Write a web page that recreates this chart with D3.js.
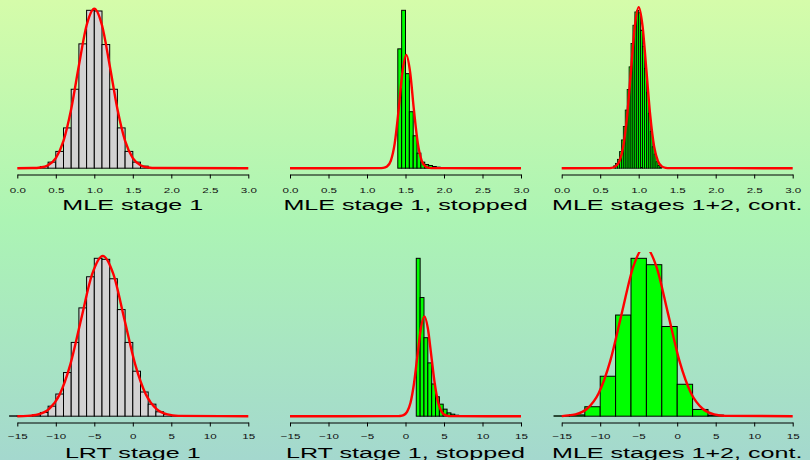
<!DOCTYPE html>
<html>
<head>
<meta charset="utf-8">
<script src="https://cdn.jsdelivr.net/npm/d3@7"></script>
<style>
  body { margin: 0; }
  svg { display: block; font-family: "Liberation Sans", Arial, sans-serif; }
</style>
</head>
<body>
<div id="chart"></div>
<script>
const width = 810;
const height = 460;

// tick labels for the two rows
const mleTicks = [0, 0.5, 1, 1.5, 2, 2.5, 3];
const lrtTicks = [-15, -10, -5, 0, 5, 10, 15];

// MLE stage 1 : bins of 0.1 from 0.2
const mle1Start = 0.2, mle1Width = 0.1;
const mle1Dens = [0.004, 0.02, 0.071, 0.197, 0.473, 0.927, 1.46, 1.854, 1.846, 1.452, 0.927, 0.473, 0.197, 0.071, 0.024, 0.008];
const mle1CurveX = [0, 0.2, 0.3, 0.4, 0.5, 0.6, 0.7, 0.8, 0.9, 1.0, 1.1, 1.2, 1.3, 1.4, 1.5, 1.6, 1.7, 1.8, 3];
const mle1CurveY = [0, 0.0016, 0.0085, 0.0355, 0.119, 0.321, 0.695, 1.206, 1.678, 1.873, 1.678, 1.206, 0.695, 0.321, 0.119, 0.0355, 0.0085, 0.0016, 0];

// MLE stage 1, stopped : bins of 0.05 from 1.4
const mleStopStart = 1.4, mleStopWidth = 0.05;
const mleStopDens = [4.86, 6.43, 3.85, 2.30, 1.32, 0.613, 0.245, 0.15, 0.109, 0.068, 0.041, 0.014];
const mleStopCurveX = [0, 1.16, 1.21, 1.26, 1.31, 1.36, 1.41, 1.46, 1.51, 1.56, 1.61, 1.66, 1.71, 1.76, 1.81, 1.86, 3];
const mleStopCurveY = [0, 0.0012, 0.0106, 0.068, 0.309, 1.01, 2.35, 3.91, 4.61, 3.91, 2.35, 1.01, 0.309, 0.068, 0.0106, 0.0012, 0];

// MLE stages 1+2, cont. : bins of 0.025 from 0.675
const mleContStart = 0.675, mleContWidth = 0.025;
const mleContDens = [0.058, 0.12, 0.22, 0.41, 0.70, 1.03, 1.44, 1.95, 2.51, 3.09, 3.54, 3.87, 3.91, 3.85, 3.42, 3.02, 2.47, 1.87, 1.36, 0.91, 0.53, 0.35, 0.16, 0.066, 0.025];
const mleContCurveX = [0, 0.6, 0.65, 0.7, 0.75, 0.8, 0.85, 0.9, 0.95, 1.0, 1.05, 1.1, 1.15, 1.2, 1.25, 1.3, 1.35, 1.4, 3];
const mleContCurveY = [0, 0.0013, 0.0088, 0.044, 0.175, 0.54, 1.30, 2.42, 3.52, 3.99, 3.52, 2.42, 1.30, 0.54, 0.175, 0.044, 0.0088, 0.0013, 0];

// LRT stage 1 : bins of 1 from -16
const lrt1Start = -16, lrt1Width = 1;
const lrt1Dens = [0.0003, 0.0003, 0.0006, 0.0012, 0.0033, 0.0089, 0.0197, 0.0388, 0.0656, 0.0963, 0.124, 0.1404, 0.1395, 0.1222, 0.0948, 0.0656, 0.04, 0.0215, 0.0107, 0.0039, 0.0015, 0.0006, 0.0003];
const lrt1CurveX = [-15, -13.7, -12.3, -10.9, -9.5, -8.1, -6.7, -5.3, -3.9, -2.5, -1.1, 0.3, 1.7, 3.1, 4.5, 5.9, 15];
const lrt1CurveY = [0, 0.0003, 0.0016, 0.0063, 0.0193, 0.0463, 0.0864, 0.1258, 0.1425, 0.1258, 0.0864, 0.0463, 0.0193, 0.0063, 0.0016, 0.0003, 0];

// LRT stage 1, stopped : bins of 0.5 from 1.4
const lrtStopStart = 1.4, lrtStopWidth = 0.5;
const lrtStopDens = [0.696, 0.523, 0.346, 0.235, 0.142, 0.0856, 0.053, 0.031, 0.0146, 0.0089, 0.0044, 0.003, 0.0015];
const lrtStopCurveX = [-15, -1.15, -0.7, -0.25, 0.2, 0.65, 1.1, 1.55, 2.0, 2.45, 2.9, 3.35, 3.8, 4.25, 4.7, 5.15, 5.6, 6.05, 15];
const lrtStopCurveY = [0, 0.0001, 0.001, 0.0049, 0.0193, 0.0595, 0.143, 0.267, 0.388, 0.44, 0.388, 0.267, 0.143, 0.0595, 0.0193, 0.0049, 0.001, 0.0001, 0];

// MLE stages 1+2, cont. (bottom) : bins of 2 from -16
const lrtContStart = -16, lrtContWidth = 2;
const lrtContDens = [0.0003, 0.0011, 0.008, 0.0338, 0.0856, 0.1336, 0.1282, 0.0759, 0.027, 0.0057, 0.0009];
const lrtContCurveX = [-15, -14.7, -13.2, -11.7, -10.2, -8.7, -7.2, -5.7, -4.2, -2.7, -1.2, 0.3, 1.8, 3.3, 4.8, 6.3, 15];
const lrtContCurveY = [0, 0.0003, 0.0016, 0.0063, 0.0194, 0.0466, 0.087, 0.1266, 0.1435, 0.1266, 0.087, 0.0466, 0.0194, 0.0063, 0.0016, 0.0003, 0];

const panels = [
    { title: "MLE stage 1", domain: [0, 3], ticks: mleTicks, fmt: d3.format(".1f"), start: mle1Start, binW: mle1Width, dens: mle1Dens, cx: mle1CurveX, cy: mle1CurveY, fill: "#d3d3d3" },
    { title: "MLE stage 1, stopped", domain: [0, 3], ticks: mleTicks, fmt: d3.format(".1f"), start: mleStopStart, binW: mleStopWidth, dens: mleStopDens, cx: mleStopCurveX, cy: mleStopCurveY, fill: "#00ff00" },
    { title: "MLE stages 1+2, cont.", domain: [0, 3], ticks: mleTicks, fmt: d3.format(".1f"), start: mleContStart, binW: mleContWidth, dens: mleContDens, cx: mleContCurveX, cy: mleContCurveY, fill: "#00ff00" },
    { title: "LRT stage 1", domain: [-15, 15], ticks: lrtTicks, fmt: d3.format("d"), start: lrt1Start, binW: lrt1Width, dens: lrt1Dens, cx: lrt1CurveX, cy: lrt1CurveY, fill: "#d3d3d3" },
    { title: "LRT stage 1, stopped", domain: [-15, 15], ticks: lrtTicks, fmt: d3.format("d"), start: lrtStopStart, binW: lrtStopWidth, dens: lrtStopDens, cx: lrtStopCurveX, cy: lrtStopCurveY, fill: "#00ff00" },
    { title: "MLE stages 1+2, cont.", domain: [-15, 15], ticks: lrtTicks, fmt: d3.format("d"), start: lrtContStart, binW: lrtContWidth, dens: lrtContDens, cx: lrtContCurveX, cy: lrtContCurveY, fill: "#00ff00" }
];

// layout of the 2x3 grid
const colLeft = [17.3, 290, 561.7];
const axisW = 231;
const rowTop = [4, 252];
const plotH = 170.5;

const svg = d3.select("#chart")
    .append("svg")
    .attr("width", width)
    .attr("height", height);

// background gradient
const grad = svg.append("defs")
    .append("linearGradient")
    .attr("id", "bg")
    .attr("x1", 0).attr("y1", 0).attr("x2", 0).attr("y2", 1);
grad.append("stop").attr("offset", "0%").attr("stop-color", "rgb(213,252,170)");
grad.append("stop").attr("offset", "48%").attr("stop-color", "rgb(172,244,180)");
grad.append("stop").attr("offset", "100%").attr("stop-color", "rgb(164,216,206)");

svg.append("rect")
    .attr("width", width)
    .attr("height", height)
    .attr("fill", "url(#bg)");

panels.forEach((p, i) => {
    const col = i % 3;
    const row = Math.floor(i / 3);
    const left = colLeft[col];
    const top = rowTop[row];
    const axisY = top + plotH;

    const x = d3.scaleLinear().domain(p.domain).range([left, left + axisW]);
    const ymax = d3.max(p.dens);
    const y = d3.scaleLinear().domain([-0.04 * ymax, 1.04 * ymax]).range([axisY, top]);

    const g = svg.append("g");

    // clip to the plot region (curve can run above the top)
    g.append("clipPath")
        .attr("id", "clip" + i)
        .append("rect")
        .attr("x", left - 12)
        .attr("y", top)
        .attr("width", axisW + 24)
        .attr("height", plotH);

    const bins = p.dens.map((d, k) => ({ x0: p.start + k * p.binW, x1: p.start + (k + 1) * p.binW, d: d }));

    g.append("g")
        .attr("clip-path", `url(#clip${i})`)
        .selectAll("rect")
        .data(bins)
        .enter()
        .append("rect")
        .attr("x", d => x(d.x0))
        .attr("y", d => y(d.d))
        .attr("width", d => x(d.x1) - x(d.x0))
        .attr("height", d => y(0) - y(d.d))
        .attr("fill", p.fill)
        .attr("stroke", "#000")
        .attr("stroke-width", p.binW === 0.025 ? 0.8 : 1);

    const line = d3.line()
        .x(d => x(d[0]))
        .y(d => y(d[1]))
        .curve(d3.curveMonotoneX);

    g.append("path")
        .attr("clip-path", `url(#clip${i})`)
        .datum(p.cx.map((v, k) => [v, p.cy[k]]))
        .attr("d", line)
        .attr("fill", "none")
        .attr("stroke", "#ff0000")
        .attr("stroke-width", 2.4);

    // x axis
    const ax = g.append("g")
        .attr("transform", `translate(0,${axisY})`)
        .call(d3.axisBottom(x).tickValues(p.ticks).tickFormat(p.fmt).tickSize(4).tickSizeOuter(0));
    ax.select(".domain").attr("stroke", "#000").attr("stroke-width", 1);
    ax.selectAll(".tick line").attr("stroke", "#000");
    ax.selectAll(".tick text")
        .attr("y", null)
        .attr("dy", null)
        .attr("fill", "#111")
        .attr("font-size", "8px")
        .attr("font-family", "Liberation Sans, Arial, sans-serif")
        .attr("transform", `translate(0,${row === 0 ? 18.5 : 16.7}) scale(1.45,1)`);

    // panel title under the axis
    g.append("text")
        .attr("text-anchor", "middle")
        .attr("font-size", "15.5px")
        .attr("fill", "#000")
        .attr("transform", `translate(${left + axisW / 2},${axisY + (row === 0 ? 35.7 : 35)}) scale(1.62,1)`)
        .text(p.title);
});
</script>
</body>
</html>
